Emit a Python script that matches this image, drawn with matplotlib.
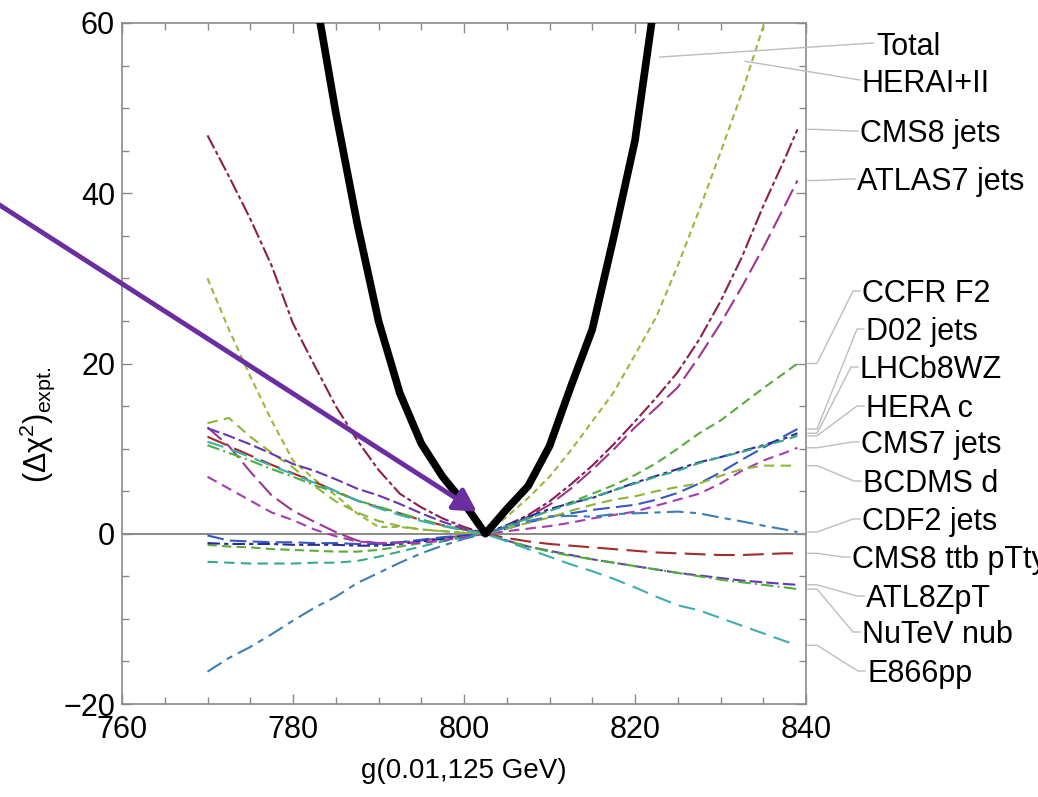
import matplotlib.pyplot as plt
from matplotlib.lines import Line2D
from matplotlib.ticker import MultipleLocator

plt.rcParams['font.family'] = ['Liberation Sans', 'DejaVu Sans']
plt.rcParams['mathtext.fontset'] = 'custom'
plt.rcParams['mathtext.rm'] = 'Liberation Sans'
plt.rcParams['mathtext.it'] = 'Liberation Sans:italic'

W, H = 1038, 797

# common scan points of g(0.01,125 GeV)
g = [770, 772.5, 775, 777.5, 780, 782.5, 785, 787.5, 790, 792.5, 795, 797.5,
     800, 802.5, 805, 807.5, 810, 812.5, 815, 817.5, 820, 822.5, 825, 827.5,
     830, 832.5, 835, 837.5, 839]

# total curve (own points)
g_total = [780, 782.5, 785, 787.5, 790, 792.5, 795, 797.5, 800, 802.5,
           805, 807.5, 810, 812.5, 815, 817.5, 820, 822.5, 825]
total = [80, 64, 49.5, 36.5, 25.0, 16.5, 10.6, 6.7, 3.6, 0,
         2.9, 5.6, 10.3, 17.3, 24.0, 34.8, 46.2, 64, 85]

hera = [30, 24, 18.5, 13.3, 8.6, 6.4, 4.5, 2.4, 0.8, 0.8, 0.5, 0.3,
        0.1, 0, 2.0, 4.2, 6.7, 9.8, 13.2, 16.6, 21.0, 25.5, 31.5, 38,
        44.8, 51.8, 59.6, 67, 72]
cms8_jets = [46.8, 42, 37, 31.5, 24.7, 19.8, 15.0, 11.0, 7.5, 4.7, 3.1, 1.8,
             0.8, 0, 1.0, 2.2, 3.8, 5.8, 8.0, 10.5, 13.2, 16.0, 19.0, 22.8,
             27.3, 32.5, 38.5, 44, 47.5]
atlas7_jets = [12.5, 10.3, 7.3, 4.5, 2.7, 1.4, 0.2, -0.8, -1.1, -1.0, -0.8, -0.5,
               -0.2, 0, 0.8, 2.0, 3.4, 5.3, 7.5, 9.9, 12.5, 14.8, 17.2, 20.8,
               24.7, 29.0, 33.6, 38.5, 41.5]
ccfr_f2 = [-1.3, -1.5, -1.6, -1.8, -1.9, -2.0, -2.1, -2.1, -1.9, -1.5, -1.1, -0.7,
           -0.3, 0, 0.8, 1.8, 2.7, 3.7, 4.7, 5.7, 6.9, 8.3, 10.0, 11.8,
           13.3, 15.2, 17.1, 18.9, 20.0]
d02_jets = [-0.2, -0.8, -0.9, -1.0, -1.0, -1.1, -1.1, -1.2, -1.2, -1.0, -0.7, -0.4,
            -0.2, 0, 0.6, 1.3, 2.0, 2.4, 2.8, 3.1, 3.4, 4.0, 4.8, 5.9,
            7.2, 8.7, 10.1, 11.5, 12.3]
lhcb8wz = [-1.1, -1.2, -1.2, -1.2, -1.3, -1.3, -1.3, -1.4, -1.4, -1.2, -0.9, -0.6,
           -0.3, 0, 1.0, 2.0, 2.9, 3.6, 4.2, 5.1, 6.0, 6.8, 7.6, 8.4,
           9.0, 9.7, 10.4, 11.2, 11.8]
hera_c = [-3.3, -3.4, -3.5, -3.5, -3.5, -3.4, -3.4, -3.2, -2.7, -2.1, -1.5, -0.9,
          -0.4, 0, 0.9, 1.8, 2.7, 3.5, 4.3, 5.1, 5.9, 6.7, 7.4, 8.3,
          9.0, 9.6, 10.3, 11.0, 11.5]
cms7_jets = [6.7, 5.3, 3.9, 2.5, 1.6, 0.5, -0.3, -0.9, -1.1, -1.1, -1.1, -0.8,
             -0.4, 0, 0.3, 0.6, 0.9, 1.3, 1.8, 2.2, 2.6, 3.3, 4.0, 4.7,
             5.9, 7.4, 8.6, 9.5, 10.1]
bcdms_d = [13.0, 13.6, 11.4, 9.5, 7.8, 5.6, 3.8, 2.5, 1.5, 0.9, 0.5, 0.3,
           0.1, 0, 0.6, 1.3, 1.9, 2.7, 3.4, 4.0, 4.4, 5.0, 5.5, 5.9,
           6.8, 7.6, 8.0, 8.0, 8.0]
cdf2_jets = [-16.2, -14.6, -13.3, -11.8, -10.2, -8.7, -7.4, -5.8, -4.6, -3.4, -2.3, -1.4,
             -0.6, 0, 0.8, 1.5, 2.0, 2.1, 2.0, 2.3, 2.4, 2.5, 2.6, 2.4,
             1.9, 1.45, 0.95, 0.5, 0.2]
cms8_ttb = [11.4, 10.3, 9.2, 8.1, 7.1, 6.1, 5.0, 3.9, 3.1, 2.4, 1.6, 1.0,
            0.5, 0, -0.5, -0.9, -1.2, -1.4, -1.6, -1.8, -2.0, -2.2, -2.3, -2.4,
            -2.5, -2.5, -2.4, -2.3, -2.3]
atl8zpt = [12.4, 11.5, 10.5, 9.4, 8.2, 7.4, 6.4, 5.3, 4.5, 3.5, 2.4, 1.4,
           0.6, 0, -0.8, -1.5, -2.0, -2.5, -3.0, -3.4, -3.8, -4.2, -4.6, -4.9,
           -5.2, -5.5, -5.7, -5.9, -6.0]
nutev_nub = [10.4, 9.5, 8.6, 7.6, 6.7, 5.7, 4.9, 3.9, 3.2, 2.4, 1.7, 1.0,
             0.4, 0, -0.8, -1.5, -2.1, -2.6, -3.0, -3.4, -3.8, -4.2, -4.6, -5.0,
             -5.4, -5.7, -6.0, -6.3, -6.5]
e866pp = [10.8, 10.0, 9.0, 8.0, 7.0, 6.0, 5.0, 3.9, 3.0, 2.2, 1.5, 0.9,
          0.4, 0, -0.9, -1.8, -2.7, -3.6, -4.4, -5.3, -6.3, -7.4, -8.4, -9.0,
          -9.9, -10.8, -11.7, -12.6, -13.1]

series = [
    ('CMS8 jets', cms8_jets, '#8c1f4f', (0, (7, 1.5, 2, 1.5))),
    ('ATLAS7 jets', atlas7_jets, '#a0358e', (0, (9, 3))),
    ('HERAI+II', hera, '#9bb83a', (0, (3, 2))),
    ('CCFR F2', ccfr_f2, '#5aab3c', (0, (4.5, 2.5))),
    ('D02 jets', d02_jets, '#3558c4', (0, (8, 3))),
    ('LHCb8WZ', lhcb8wz, '#2c2c96', (0, (6, 2, 2, 2))),
    ('HERA c', hera_c, '#3aa78f', (0, (5, 3))),
    ('CMS7 jets', cms7_jets, '#a43cb0', (0, (5, 3))),
    ('BCDMS d', bcdms_d, '#8fb43a', (0, (5, 3))),
    ('CDF2 jets', cdf2_jets, '#3c7fb5', (0, (8, 3, 3, 3))),
    ('CMS8 ttb pTty', cms8_ttb, '#a52a2a', (0, (10, 4))),
    ('ATL8ZpT', atl8zpt, '#6a35b5', (0, (6, 2))),
    ('NuTeV nub', nutev_nub, '#4caf3c', (0, (6, 2, 1, 2))),
    ('E866pp', e866pp, '#3aaeb0', (0, (8, 4))),
]

# label text baselines (image pixels: left x, baseline y)
label_pos = {
    'Total': (876, 55), 'HERAI+II': (862, 92), 'CMS8 jets': (860, 142),
    'ATLAS7 jets': (857, 190), 'CCFR F2': (862, 302), 'D02 jets': (866, 340),
    'LHCb8WZ': (860, 378), 'HERA c': (866, 417), 'CMS7 jets': (861, 453),
    'BCDMS d': (863, 492), 'CDF2 jets': (862, 530), 'CMS8 ttb pTty': (852, 568),
    'ATL8ZpT': (866, 607), 'NuTeV nub': (862, 643), 'E866pp': (867, 682),
}

fig = plt.figure(figsize=(W / 100, H / 100), dpi=100)
ax = fig.add_axes([122 / W, 1 - 704 / H, (806 - 122) / W, (704 - 23) / H])

ax.axhline(0, color='#808080', lw=1.3, zorder=1)
for name, vals, col, ls in series:
    ax.plot(g, vals, color=col, lw=1.5, linestyle=ls, zorder=2)
ax.plot(g_total, total, color='black', lw=5.5, zorder=3)

ax.set_xlim(760, 840)
ax.set_ylim(-20, 60)
ax.set_xticks([760, 780, 800, 820, 840])
ax.set_yticks([-20, 0, 20, 40, 60])
ax.xaxis.set_minor_locator(MultipleLocator(5))
ax.yaxis.set_minor_locator(MultipleLocator(5))
ax.tick_params(which='both', direction='in', top=True, right=True,
               colors='#8a8a8a', labelcolor='black', labelsize=22, width=1)
ax.tick_params(which='major', length=7)
ax.tick_params(which='minor', length=5)
ax.tick_params(axis='x', pad=8)
ax.tick_params(axis='y', pad=5)
for sp in ax.spines.values():
    sp.set_color('#8a8a8a')
    sp.set_linewidth(1.2)

ax.set_xlabel('g(0.01,125 GeV)', fontsize=20, labelpad=9)
ax.set_ylabel(r'$(\Delta\mathrm{\chi}^2)_{\mathrm{expt.}}$', fontsize=22)
ax.yaxis.set_label_coords(-0.095, 0.41)

# purple arrow coming in from the left
ax.annotate('', xy=(801.5, 2.6), xytext=(744, 39.7),
            arrowprops=dict(arrowstyle='-|>,head_length=0.9,head_width=0.5',
                            color='#6a2ea0', lw=3.5, mutation_scale=15,
                            shrinkA=0, shrinkB=0),
            annotation_clip=False, zorder=5)


def img2fig(px, py):
    return px / W, 1 - py / H


fig.canvas.draw()
lead_col = '#bdbdbd'
for name, vals, col, ls in series:
    lx, ly = label_pos[name]
    fig.text(*img2fig(lx, ly), name, fontsize=22, ha='left', va='baseline')
    if name == 'HERAI+II':
        sx, sy = ax.transData.transform((832.9, 55.5))
        sy = H - sy
        xs = [sx, lx - 2]
        ys = [sy, ly - 12]
    else:
        sy = H - ax.transData.transform((839, vals[-1]))[1]
        sx = 808
        xs = [sx, sx + 9, lx - 9, lx - 2]
        ys = [sy, sy, ly - 11, ly - 11]
    fx = [x / W for x in xs]
    fy = [1 - y / H for y in ys]
    fig.add_artist(Line2D(fx, fy, color=lead_col, lw=1.0))

# Total label
lx, ly = label_pos['Total']
fig.text(*img2fig(lx, ly), 'Total', fontsize=22, ha='left', va='baseline')
sx, sy = ax.transData.transform((822.9, 56.0))
sy = H - sy
fig.add_artist(Line2D([sx / W, (lx - 3) / W], [1 - sy / H, 1 - (ly - 12) / H],
                      color=lead_col, lw=1.0))

fig.savefig('out.png', dpi=100)
